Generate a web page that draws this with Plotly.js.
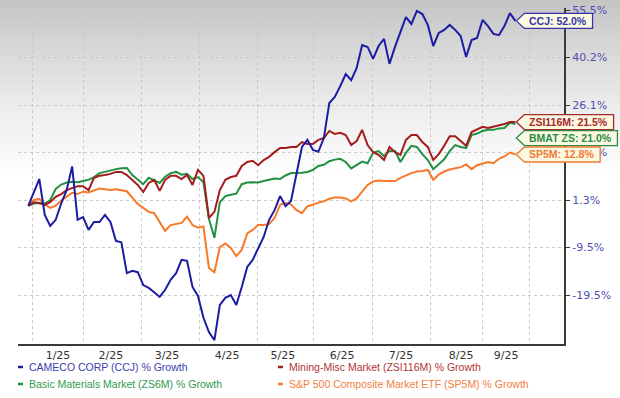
<!DOCTYPE html>
<html>
<head>
<meta charset="utf-8">
<script src="https://cdn.plot.ly/plotly-3.0.1.min.js"></script>
<style>
html,body{margin:0;padding:0;background:#fff;}
#chart{width:620px;height:398px;background:linear-gradient(to bottom,#c4c4c4 0px,#d8d8d8 50px,#eaeaea 100px,#f8f8f8 150px,#ffffff 178px,#ffffff 100%);}
</style>
</head>
<body>
<div id="chart"></div>
<script>
// ---- data (% growth, sampled every 3 calendar days from startDate) ----
const startDate = '2024-12-30';
const stepDays = 3;
const ccj = [0.0,3.3,6.6,-2.1,-4.6,-3.2,0.5,3.8,9.8,-3.2,
  -2.6,-5.5,-3.7,-3.7,-2.1,-3.7,-8.0,-8.3,-14.9,-14.4,
  -14.7,-17.4,-18.0,-18.9,-19.9,-18.4,-16.3,-14.9,-12.1,-12.3,
  -17.8,-19.7,-24.3,-27.3,-29.0,-21.6,-20.1,-19.5,-21.6,-17.8,
  -13.6,-12.1,-9.6,-7.1,-3.2,-1.0,2.3,-0.1,1.1,7.6,
  14.8,16.7,14.0,13.5,17.2,26.7,28.5,31.7,35.3,33.5,
  37.1,44.2,43.6,39.8,43.9,46.2,38.3,43.6,48.7,53.2,
  51.0,55.2,54.2,50.7,43.9,48.1,49.1,50.7,49.1,47.1,
  40.4,45.8,46.5,52.3,50.3,47.8,47.4,50.3,54.5,52.0];
const zsi116m = [0.0,0.8,0.6,0.2,0.8,2.1,2.8,3.8,4.3,4.8,
  4.8,3.8,6.9,7.4,7.6,7.9,8.4,8.4,7.6,6.4,
  5.1,3.3,5.6,6.4,3.6,6.4,7.4,7.4,6.6,7.6,
  5.1,8.9,7.4,-2.8,-1.4,3.8,6.4,7.1,7.4,9.9,
  10.9,11.2,10.1,11.4,12.2,13.4,14.5,14.5,14.8,14.8,
  16.1,15.6,15.6,16.7,17.2,19.1,18.3,18.6,18.0,15.3,
  16.4,19.4,15.3,13.4,12.7,11.4,14.8,13.4,12.7,16.7,
  18.0,18.0,16.1,14.8,11.4,12.9,15.1,17.7,17.7,16.4,
  15.1,18.8,19.4,20.2,19.9,20.2,20.7,21.0,21.5,21.5];
const zs6m = [0.0,0.5,0.6,0.5,1.3,4.1,5.2,5.7,5.9,5.8,
  6.1,6.4,7.1,8.1,8.4,8.8,9.1,9.3,9.4,7.6,
  6.5,5.3,6.9,6.2,5.6,7.2,8.1,8.4,7.7,7.9,
  6.6,7.1,5.8,-3.0,-7.3,0.8,2.3,2.6,2.9,5.3,
  5.7,5.8,5.7,6.1,6.4,6.7,6.6,7.5,8.1,8.1,
  8.2,8.4,8.9,9.9,10.2,11.1,11.5,11.7,10.9,9.3,
  10.1,11.0,10.6,13.2,13.7,12.4,13.7,13.7,10.9,13.2,
  15.1,14.8,12.9,11.4,9.1,10.4,11.6,13.7,15.3,14.8,
  14.5,18.0,18.4,19.1,19.4,19.4,19.8,19.9,21.3,21.0];
const sp5m = [0.0,1.3,1.6,0.3,-0.5,0.0,1.2,2.1,3.1,2.8,
  3.4,3.2,3.8,4.2,4.0,3.8,4.0,3.8,3.5,1.9,
  0.4,-0.5,-1.4,-1.7,-3.7,-5.7,-4.4,-4.2,-3.9,-2.5,
  -4.4,-5.0,-4.7,-13.8,-14.7,-9.4,-8.6,-9.6,-11.3,-10.0,
  -6.3,-5.5,-4.4,-4.4,-4.2,-2.8,0.2,0.6,0.3,-1.0,
  -1.7,-0.1,0.2,0.7,1.0,1.6,1.9,1.9,1.7,1.0,
  1.7,3.4,5.1,6.0,6.2,6.1,6.1,6.1,6.9,7.6,
  8.1,8.5,8.6,8.9,6.4,7.7,8.5,9.0,9.3,9.6,
  10.3,9.1,10.1,10.6,10.9,10.6,11.7,12.3,13.3,12.8];

const seriesNames = ['CAMECO CORP (CCJ) % Growth','Mining-Misc Market (ZSI116M) % Growth',
  'Basic Materials Market (ZS6M) % Growth','S&P 500 Composite Market ETF (SP5M) % Growth'];
const shortNames = ['CCJ','ZSI116M','BMAT ZS','SP5M'];

const yTickVals = [-19.5,-9.5,1.3,13.3,26.1,40.2,55.5];
const yTickText = ['-19.5%','-9.5%','1.3%','13.3%','26.1%','40.2%','55.5%'];
const xTickDates = ['2025-01-15 06:00','2025-02-13 07:00','2025-03-16 00:00','2025-04-17 22:00',
  '2025-05-18 14:00','2025-06-20 00:00','2025-07-22 07:00','2025-08-24 05:00','2025-09-17 22:00'];
const xTickText = ['1/25','2/25','3/25','4/25','5/25','6/25','7/25','8/25','9/25'];
const xGridDates = ['2025-01-01 00:00','2025-01-29 12:00','2025-03-01 19:00','2025-04-02 14:00',
  '2025-05-04 10:00','2025-06-04 14:00','2025-07-06 10:00','2025-08-07 05:00','2025-09-04 17:00','2025-10-01 00:00'];
const xRange = ['2024-12-24 07:48','2025-10-19 16:00'];

// ---- styling ----
const lineColors = ['#1c1ca3','#a41d1d','#219040','#f7792a'];
const labelColors = ['#3434aa','#a52a2a','#2a8c46','#f07a35'];
const legendColors = ['#3d3db0','#b03434','#2f9a50','#f2813d'];
const W = 620, H = 398, M = {l:18, r:56, t:8, b:54};
const plotW = W - M.l - M.r, plotH = H - M.t - M.b;
const yMin = -3.0316, yMax = 4.0421;
const fontA = 'Arial, "Liberation Sans", sans-serif';

function ms(s){ return Date.parse(s.length > 10 ? s.replace(' ','T') + ':00Z' : s + 'T00:00:00Z'); }
function toU(v){
  const t = yTickVals; let k = 0;
  while (k < t.length - 2 && v > t[k+1]) k++;
  return (k - 2) + (v - t[k]) / (t[k+1] - t[k]);
}
const t0 = ms(startDate);
const dates = ccj.map((_, i) => new Date(t0 + i*stepDays*86400000).toISOString().slice(0,10));

const series = [ccj, zsi116m, zs6m, sp5m];
const traces = [];
[3,2,1,0].forEach(i => {
  traces.push({x: dates, y: series[i].map(toU), type:'scatter', mode:'lines', name: seriesNames[i],
    line:{color: lineColors[i], width:2}, showlegend:false, hoverinfo:'skip'});
});

// ---- end-value labels ----
const xr0 = ms(xRange[0]), xr1 = ms(xRange[1]);
const lastDate = dates[dates.length-1];
const tipX = (ms(lastDate) - xr0) / (xr1 - xr0);
const ctx = document.createElement('canvas').getContext('2d');
ctx.font = 'bold 10.5px "Liberation Sans", Arial, sans-serif';
const yPx = u => M.t + (yMax - u) / (yMax - yMin) * plotH;
let labels = series.map((s, i) => {
  const v = s[s.length-1];
  const txt = shortNames[i] + ': ' + v.toFixed(1) + '%';
  return {i, txt, py: yPx(toU(v)), w: ctx.measureText(txt).width};
});
labels.sort((a,b) => a.py - b.py);
for (let k = 1; k < labels.length; k++) {
  if (labels[k].py < labels[k-1].py + 16) labels[k].py = labels[k-1].py + 16;
}
const shapes = [], annotations = [];
labels.forEach(L => {
  const py = 1 - (L.py - M.t) / plotH;
  const bw = 11 + L.w + 9;
  shapes.push({type:'path', xref:'paper', yref:'paper', xsizemode:'pixel', ysizemode:'pixel',
    xanchor: tipX, yanchor: py, layer:'above',
    path: `M1,0 L9,7.5 L${bw},7.5 L${bw},-7.5 L9,-7.5 Z`,
    fillcolor:'#fcf9e2', line:{color: labelColors[L.i], width:1.3}});
  annotations.push({xref:'paper', yref:'paper', x: tipX, y: py, xshift: 12, xanchor:'left', yanchor:'middle',
    showarrow:false, text:'<b>' + L.txt + '</b>',
    font:{family: fontA, size:10.5, color: labelColors[L.i]}});
});

// ---- legend (two columns) ----
const legPos = [[27,367],[287,367],[27,384],[287,384]];
seriesNames.forEach((n, i) => {
  const X = legPos[i][0], Y = legPos[i][1];
  const px = x => (x - M.l) / plotW, py = y => 1 - (y - M.t) / plotH;
  shapes.push({type:'line', xref:'paper', yref:'paper', x0: px(X-9), x1: px(X-4), y0: py(Y), y1: py(Y),
    line:{color: lineColors[i], width:2.5}});
  annotations.push({xref:'paper', yref:'paper', x: px(X), y: py(Y), xanchor:'left', yanchor:'middle',
    showarrow:false, text: n, font:{family: fontA, size:10.5, color: legendColors[i]}});
});

const layout = {
  width: W, height: H, margin: M,
  paper_bgcolor:'rgba(0,0,0,0)', plot_bgcolor:'rgba(0,0,0,0)',
  showlegend:false,
  xaxis:{type:'date', range: xRange, tickmode:'array', tickvals: xTickDates, ticktext: xTickText,
    ticks:'', showgrid:false, zeroline:false, showline:true, linecolor:'#3a3a3a', linewidth:2,
    tickfont:{family:'"DejaVu Sans", Verdana, sans-serif', size:11, color:'#333'},
    minor:{tickmode:'array', tickvals: xGridDates, showgrid:true, gridcolor:'#c9c9c9', griddash:'3px,3px', gridwidth:1, ticks:''}},
  yaxis:{range:[yMin, yMax], side:'right', tickmode:'array', tickvals: yTickVals.map(toU), ticktext: yTickText,
    showgrid:true, gridcolor:'#c9c9c9', griddash:'3px,3px', gridwidth:1, zeroline:false,
    showline:true, linecolor:'#3a3a3a', linewidth:2, ticks:'outside', ticklen:4, tickcolor:'#3a3a3a',
    tickfont:{family:'"DejaVu Sans", Verdana, sans-serif', size:11, color:'#5050b2'}},
  shapes, annotations
};
Plotly.newPlot('chart', traces, layout, {staticPlot:true, displayModeBar:false});
</script>
</body>
</html>
